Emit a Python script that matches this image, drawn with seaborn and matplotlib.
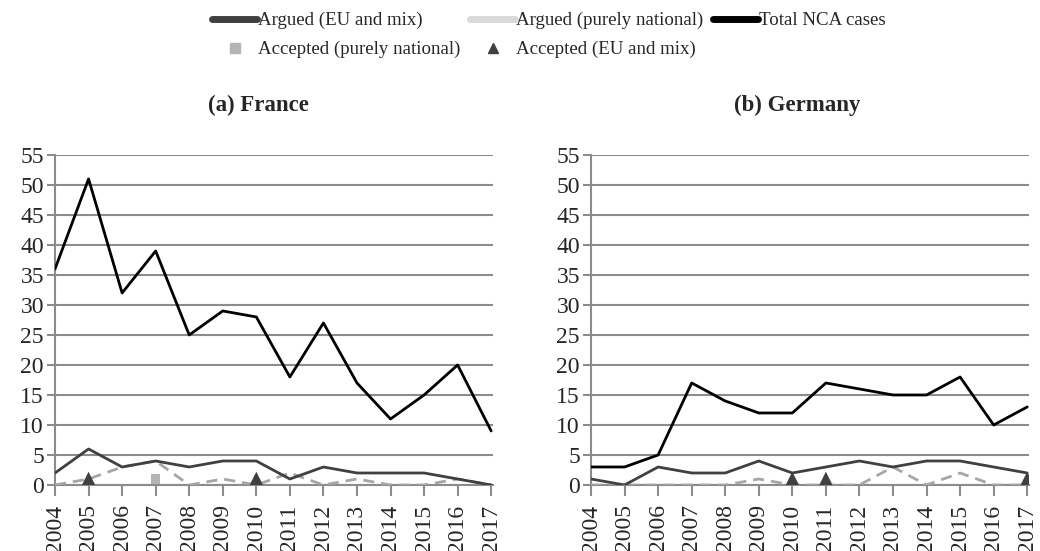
import numpy as np
import pandas as pd
import matplotlib
matplotlib.use("Agg")
import matplotlib.pyplot as plt
from matplotlib.lines import Line2D
import seaborn as sns

years = list(range(2004, 2018))

fr_total = [36, 51, 32, 39, 25, 29, 28, 18, 27, 17, 11, 15, 20, 9]
fr_argued_eu = [2, 6, 3, 4, 3, 4, 4, 1, 3, 2, 2, 2, 1, 0]
fr_argued_nat = [0, 1, 3, 4, 0, 1, 0, 2, 0, 1, 0, 0, 1, 0]
fr_acc_nat_years = [2007]
fr_acc_nat_vals = [1]
fr_acc_eu_years = [2005, 2010]
fr_acc_eu_vals = [1, 1]

de_total = [3, 3, 5, 17, 14, 12, 12, 17, 16, 15, 15, 18, 10, 13]
de_argued_eu = [1, 0, 3, 2, 2, 4, 2, 3, 4, 3, 4, 4, 3, 2]
de_argued_nat = [0, 0, 0, 0, 0, 1, 0, 0, 0, 3, 0, 2, 0, 0]
de_acc_nat_years = []
de_acc_nat_vals = []
de_acc_eu_years = [2010, 2011, 2017]
de_acc_eu_vals = [1, 1, 1]

titles = ["(a) France", "(b) Germany"]
yticks = list(range(0, 60, 5))

sns.set_theme(style="white")
plt.rcParams['font.family'] = ['Liberation Serif', 'DejaVu Serif']

C_EU = "#404040"
C_NAT = "#a6a6a6"
C_NAT_LEG = "#d9d9d9"
C_TOT = "#000000"
C_GRID = "#8c8c8c"
C_SQ = "#b4b4b4"

fig = plt.figure(figsize=(10.4, 5.51), dpi=100)
ax1 = fig.add_axes([0.0529, 0.1198, 0.421, 0.599])
ax2 = fig.add_axes([0.5683, 0.1198, 0.421, 0.599])

datasets = [
    (fr_total, fr_argued_eu, fr_argued_nat, fr_acc_nat_years, fr_acc_nat_vals, fr_acc_eu_years, fr_acc_eu_vals),
    (de_total, de_argued_eu, de_argued_nat, de_acc_nat_years, de_acc_nat_vals, de_acc_eu_years, de_acc_eu_vals),
]
title_x = [258 / 1040, 797 / 1040]

for ax, title, tx, (tot, aeu, anat, nyrs, nvals, eyrs, evals) in zip([ax1, ax2], titles, title_x, datasets):
    df = pd.DataFrame({"year": years, "total": tot, "aeu": aeu, "anat": anat})
    ax.set_axisbelow(True)
    ax.yaxis.grid(True, color=C_GRID, linewidth=1.5)
    ax.xaxis.grid(False)
    sns.lineplot(data=df, x="year", y="anat", ax=ax, color=C_NAT, linewidth=2, linestyle=(0, (4, 2.5)), zorder=3)
    sns.lineplot(data=df, x="year", y="aeu", ax=ax, color=C_EU, linewidth=2, zorder=4)
    sns.lineplot(data=df, x="year", y="total", ax=ax, color=C_TOT, linewidth=2, zorder=5)
    if nyrs:
        sns.scatterplot(x=nyrs, y=nvals, ax=ax, marker="s", s=45, color=C_SQ, edgecolor="none", zorder=6)
    if eyrs:
        sns.scatterplot(x=eyrs, y=evals, ax=ax, marker="^", s=110, color=C_EU, edgecolor="none", zorder=6)
    ax.set_xlim(2004, 2017.05)
    ax.set_ylim(0, 55)
    ax.set_yticks(yticks)
    ax.set_xticks(years)
    ax.set_xticklabels([str(y) for y in years], rotation=90)
    ax.tick_params(axis="x", labelsize=17, length=8, width=1.5, color=C_GRID, pad=6, direction="out", bottom=True)
    ax.tick_params(axis="y", labelsize=17, length=6, width=1.5, color=C_GRID, pad=2, direction="out", left=True)
    for s in ["top", "right"]:
        ax.spines[s].set_visible(False)
    ax.spines["left"].set_color(C_GRID)
    ax.spines["left"].set_linewidth(1.5)
    ax.spines["bottom"].set_color(C_GRID)
    ax.spines["bottom"].set_linewidth(1.5)
    ax.set_xlabel("")
    ax.set_ylabel("")
    fig.text(tx, 1 - 105 / 551, title, fontsize=16.5, fontweight="bold", ha="center", va="center")

handles = [
    Line2D([], [], color=C_EU, linewidth=5),
    Line2D([], [], color=C_SQ, marker="s", linestyle="none", markersize=7),
    Line2D([], [], color=C_NAT_LEG, linewidth=5),
    Line2D([], [], color=C_EU, marker="^", linestyle="none", markersize=7),
    Line2D([], [], color=C_TOT, linewidth=5),
]
labels = ["Argued (EU and mix)", "Accepted (purely national)", "Argued (purely national)",
          "Accepted (EU and mix)", "Total NCA cases"]
fig.legend(handles, labels, loc="upper center", bbox_to_anchor=(549 / 1040, 0.999), ncol=3, frameon=False,
           fontsize=13.6, handlelength=2.4, handletextpad=0.05, columnspacing=0.5, labelspacing=0.62,
           borderaxespad=0.2)

fig.savefig("out.png", dpi=100)
